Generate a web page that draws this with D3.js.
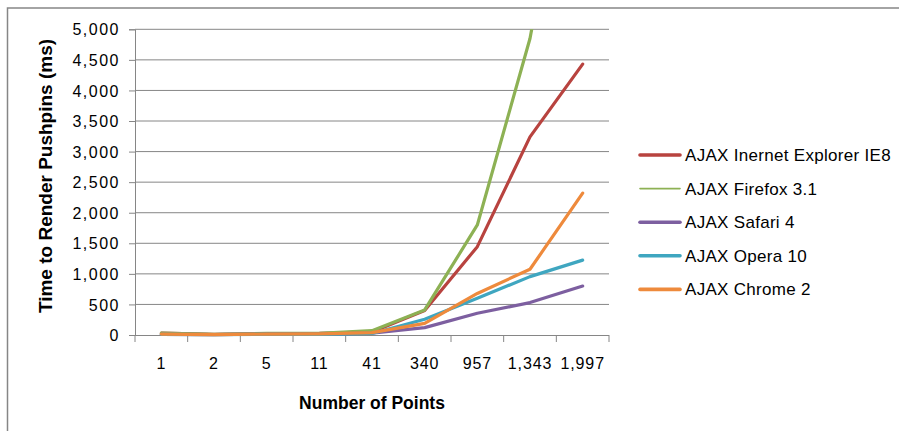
<!DOCTYPE html>
<html>
<head>
<meta charset="utf-8">
<script src="https://cdn.jsdelivr.net/npm/d3@7"></script>
<style>
  body { margin: 0; background: #fff; }
  text { font-family: "Liberation Sans", Arial, sans-serif; fill: #000; }
</style>
</head>
<body>
<div id="chart"></div>
<script>
// number of points rendered (x categories)
const categories = ['1', '2', '5', '11', '41', '340', '957', '1,343', '1,997'];

// render times in ms, one array per browser
const ieValues = [30, 10, 20, 25, 50, 400, 1445, 3240, 4430];
const firefoxValues = [30, 10, 25, 25, 70, 410, 1800, 4850, 9500];
const safariValues = [10, 5, 15, 15, 30, 120, 355, 530, 800];
const operaValues = [10, 5, 10, 10, 25, 257, 600, 955, 1225];
const chromeValues = [15, 5, 15, 20, 40, 190, 680, 1075, 2320];

const seriesNames = ['AJAX Inernet Explorer IE8', 'AJAX Firefox 3.1', 'AJAX Safari 4', 'AJAX Opera 10', 'AJAX Chrome 2'];
const yTicks = [0, 500, 1000, 1500, 2000, 2500, 3000, 3500, 4000, 4500, 5000];

const colors = ['#b8433f', '#8db154', '#7d5fa0', '#3fa6c0', '#ee8a3c'];
const series = [ieValues, firefoxValues, safariValues, operaValues, chromeValues]
  .map((values, i) => ({ name: seriesNames[i], values, color: colors[i] }));

const W = 899, H = 431;
const margin = { top: 29.3, right: 290, bottom: 96, left: 135 };
const width = W - margin.left - margin.right;
const height = H - margin.top - margin.bottom;
const grey = '#868686';

const svg = d3.select('#chart')
  .append('svg')
  .attr('width', W)
  .attr('height', H);

// chart border (runs off right and bottom edges)
svg.append('rect')
  .attr('x', 7.5).attr('y', 8)
  .attr('width', W + 20).attr('height', H + 20)
  .attr('fill', 'none').attr('stroke', grey).attr('stroke-width', 1.5);

const graph = svg.append('g')
  .attr('transform', `translate(${margin.left}, ${margin.top})`);

const x = d3.scaleBand().domain(categories).range([0, width]);
const y = d3.scaleLinear().domain([0, 5000]).range([height, 0]);

// horizontal gridlines
graph.append('g')
  .selectAll('line')
  .data(yTicks.slice(1))
  .join('line')
    .attr('x1', 0).attr('x2', width)
    .attr('y1', d => y(d)).attr('y2', d => y(d))
    .attr('stroke', grey);

// y axis
const yAxis = graph.append('g')
  .call(d3.axisLeft(y).tickValues(yTicks).tickSize(6).tickPadding(9).tickFormat(d3.format(',')));
yAxis.select('.domain').attr('stroke', grey).attr('d', `M-6,0.5H0.5V${height}`);
yAxis.selectAll('.tick line').attr('stroke', grey);
yAxis.selectAll('.tick text')
  .style('font-size', '16px').style('letter-spacing', '1.5px')
  .attr('fill', '#000').attr('dy', '0.35em');

// x axis, ticks between categories
const xAxis = graph.append('g')
  .attr('transform', `translate(0, ${height})`)
  .call(d3.axisBottom(x).tickSize(0).tickPadding(23));
xAxis.select('.domain').attr('stroke', grey).attr('d', `M0,0.5H${width}`);
xAxis.selectAll('.tick text')
  .style('font-size', '16px').style('letter-spacing', '0.9px').attr('fill', '#000');
xAxis.append('g')
  .selectAll('line')
  .data(d3.range(categories.length + 1))
  .join('line')
    .attr('x1', i => i * x.step()).attr('x2', i => i * x.step())
    .attr('y1', 0).attr('y2', 7)
    .attr('stroke', grey);

// axis titles
svg.append('text')
  .attr('x', margin.left + width / 2).attr('y', 409)
  .attr('text-anchor', 'middle')
  .style('font-size', '17.5px').style('font-weight', 'bold')
  .text('Number of Points');

svg.append('text')
  .attr('transform', 'translate(52, 176) rotate(-90)')
  .attr('text-anchor', 'middle')
  .style('font-size', '19px').style('font-weight', 'bold')
  .text('Time to Render Pushpins (ms)');

// lines, clipped to the plot area
svg.append('defs').append('clipPath').attr('id', 'plot')
  .append('rect').attr('x', -5).attr('y', 0).attr('width', width + 10).attr('height', height + 5);

const line = d3.line()
  .x((d, i) => x(categories[i]) + x.bandwidth() / 2)
  .y(d => y(d));

graph.append('g')
  .attr('clip-path', 'url(#plot)')
  .selectAll('path')
  .data(series)
  .join('path')
    .attr('d', d => line(d.values))
    .attr('fill', 'none')
    .attr('stroke', d => d.color)
    .attr('stroke-width', 3.2)
    .attr('stroke-linejoin', 'round')
    .attr('stroke-linecap', 'round');

// legend
const legend = svg.append('g')
  .attr('transform', 'translate(640, 155)')
  .selectAll('g')
  .data(series)
  .join('g')
    .attr('transform', (d, i) => `translate(0, ${i * 33.6})`);

legend.append('line')
  .attr('x1', 0).attr('x2', 40)
  .attr('stroke', d => d.color)
  .attr('stroke-width', (d, i) => (i === 1 ? 1.6 : 3.6))
  .attr('stroke-linecap', 'round');

legend.append('text')
  .attr('x', 45).attr('dy', '0.35em')
  .style('font-size', '17px').style('letter-spacing', '0.3px')
  .text(d => d.name);
</script>
</body>
</html>
